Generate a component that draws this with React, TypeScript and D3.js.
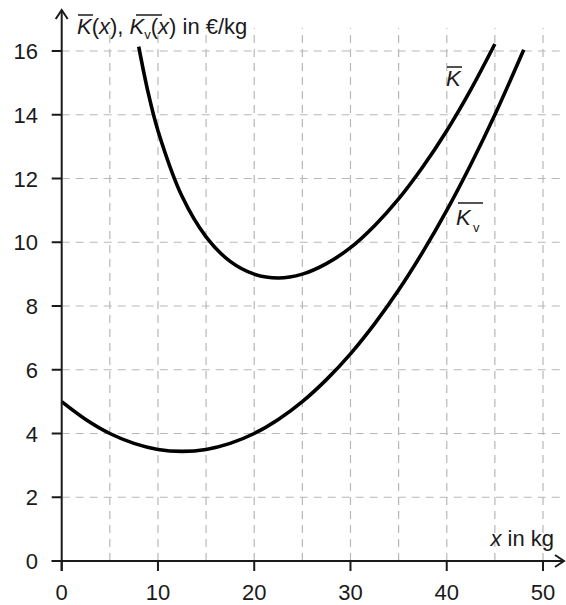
import React from 'react';
import * as d3 from 'd3';

// values
const xTicks = [0, 10, 20, 30, 40, 50];
const yTicks = [0, 2, 4, 6, 8, 10, 12, 14, 16];
const xGrid = [5, 10, 15, 20, 25, 30, 35, 40, 45, 50];
const yGrid = [2, 4, 6, 8, 10, 12, 14, 16];

const kvX = [0, 2.5, 5, 7.5, 10, 12.5, 15, 17.5, 20, 22.5, 25, 27.5, 30, 32.5, 35, 37.5, 40, 42.5, 45, 48];
const kvY = [5, 4.44, 4.0, 3.69, 3.5, 3.44, 3.5, 3.69, 4.0, 4.44, 5.0, 5.69, 6.5, 7.44, 8.5, 9.69, 11.0, 12.44, 14.0, 16.04];

const kX = [8, 9, 10, 12.5, 15, 17.5, 20, 22.5, 25, 27.5, 30, 32.5, 35, 37.5, 40, 42.5, 45];
const kY = [16.14, 14.67, 13.5, 11.44, 10.17, 9.4, 9.0, 8.88, 9.0, 9.33, 9.83, 10.52, 11.36, 12.36, 13.5, 14.79, 16.22];

const W = 566;
const H = 605;
const font = '"Liberation Sans", Arial, sans-serif';
const ink = '#1a1a1a';
const fs = 22;

export default function App() {
  const x = d3.scaleLinear().domain([0, 50]).range([61.7, 543]);
  const y = d3.scaleLinear().domain([0, 16]).range([561, 51]);

  const line = d3.line<[number, number]>()
    .x(d => x(d[0]))
    .y(d => y(d[1]))
    .curve(d3.curveCatmullRom.alpha(0.5));

  const kvPts = kvX.map((v, i) => [v, kvY[i]] as [number, number]);
  const kPts = kX.map((v, i) => [v, kY[i]] as [number, number]);

  const x0 = x(0);
  const y0 = y(0);
  const xEnd = 564;
  const yTop = 10;

  return (
    <svg width={W} height={H} style={{ position: 'absolute', left: 0, top: 0, background: '#fff' }}
      fontFamily={font}>
      {/* grid */}
      <g stroke="#b8b8b8" strokeWidth={1.2} strokeDasharray="8 6">
        {xGrid.map(v => (
          <line key={'gx' + v} x1={x(v)} x2={x(v)} y1={y0} y2={28} />
        ))}
        {yGrid.map(v => (
          <line key={'gy' + v} x1={x0} x2={560} y1={y(v)} y2={y(v)} />
        ))}
      </g>

      {/* curves */}
      <path d={line(kvPts) || ''} fill="none" stroke="#000" strokeWidth={3.6} />
      <path d={line(kPts) || ''} fill="none" stroke="#000" strokeWidth={3.6} />

      {/* axes */}
      <g stroke={ink} strokeWidth={2} fill="none">
        <line x1={x0 - 10} x2={xEnd} y1={y0} y2={y0} />
        <line x1={x0} x2={x0} y1={y0 + 10} y2={yTop} />
        <polyline points={`${x0 - 6},${yTop + 9} ${x0},${yTop} ${x0 + 6},${yTop + 9}`} />
        <polyline points={`${xEnd - 9},${y0 - 6} ${xEnd},${y0} ${xEnd - 9},${y0 + 6}`} />
        {xTicks.map(v => (
          <line key={'tx' + v} x1={x(v)} x2={x(v)} y1={y0} y2={y0 + 10} />
        ))}
        {yTicks.map(v => (
          <line key={'ty' + v} x1={x0 - 10} x2={x0} y1={y(v)} y2={y(v)} />
        ))}
      </g>

      {/* tick labels */}
      <g fill={ink} fontSize={fs}>
        {xTicks.map(v => (
          <text key={'lx' + v} x={x(v)} y={600} textAnchor="middle">{v}</text>
        ))}
        {yTicks.map(v => (
          <text key={'ly' + v} x={38} y={y(v) + 8} textAnchor="end">{v}</text>
        ))}
      </g>

      {/* axis titles */}
      <g fill={ink} fontSize={fs}>
        <text x={77} y={34}>
          <tspan fontStyle="italic">K</tspan>
          <tspan>(</tspan><tspan fontStyle="italic">x</tspan><tspan>), </tspan>
          <tspan fontStyle="italic">K</tspan>
          <tspan fontSize={13} dy={5}>v</tspan>
          <tspan dy={-5}>(</tspan><tspan fontStyle="italic">x</tspan><tspan>) in €/kg</tspan>
        </text>
        <text x={554} y={546} textAnchor="end">
          <tspan fontStyle="italic">x</tspan> in kg
        </text>
        <text x={446} y={86} fontStyle="italic">K</text>
        <text x={456} y={225} fontStyle="italic">K</text>
        <text x={473} y={232} fontSize={13}>v</text>
      </g>
      <g stroke={ink} strokeWidth={1.5}>
        <line x1={78} x2={93} y1={15} y2={15} />
        <line x1={136} x2={162} y1={15} y2={15} />
        <line x1={447} x2={462} y1={67} y2={67} />
        <line x1={458} x2={483} y1={203} y2={203} />
      </g>
    </svg>
  );
}
